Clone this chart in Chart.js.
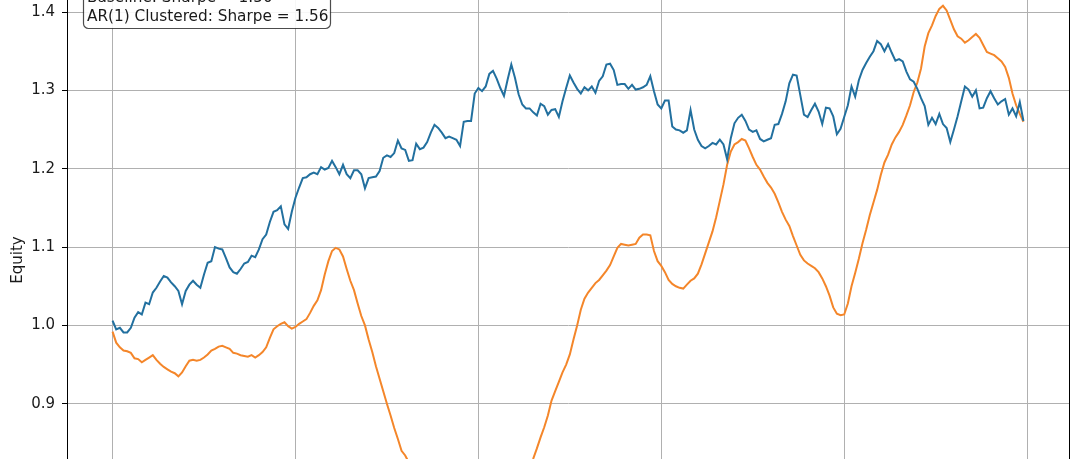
<!DOCTYPE html>
<html>
<head>
<meta charset="utf-8">
<script src="https://cdn.jsdelivr.net/npm/chart.js@4.4.1/dist/chart.umd.min.js"></script>
<style>
  html, body { margin: 0; padding: 0; background: #fff; overflow: hidden; }
  #wrap { position: relative; width: 1080px; height: 459px; overflow: hidden; }
  #equity { position: absolute; left: 0; top: -40px; }
</style>
</head>
<body>
<div id="wrap"><canvas id="equity" width="1080" height="624"></canvas></div>
<script>
// step index along the backtest (0..249)
const steps = Array.from({ length: 250 }, (_, i) => i);
const xTicks = [0, 50, 100, 150, 200, 250];
const yTicks = [0.8, 0.9, 1.0, 1.1, 1.2, 1.3, 1.4];

const legendLines = ['Baseline: Sharpe = 1.50', 'AR(1) Clustered: Sharpe = 1.56'];

// Baseline equity curve
const baseline = [
  1.006, 0.995, 0.997, 0.991, 0.991, 0.997, 1.010, 1.017, 1.014, 1.029,
  1.027, 1.042, 1.048, 1.056, 1.063, 1.061, 1.055, 1.050, 1.044, 1.027,
  1.044, 1.052, 1.057, 1.052, 1.048, 1.065, 1.080, 1.082, 1.100, 1.098,
  1.097, 1.086, 1.074, 1.068, 1.066, 1.072, 1.079, 1.081, 1.089, 1.087,
  1.097, 1.110, 1.116, 1.132, 1.145, 1.147, 1.152, 1.129, 1.123, 1.145,
  1.163, 1.176, 1.188, 1.189, 1.193, 1.195, 1.193, 1.202, 1.199, 1.201,
  1.210, 1.202, 1.193, 1.205, 1.193, 1.188, 1.198, 1.198, 1.193, 1.175,
  1.188, 1.189, 1.190, 1.197, 1.214, 1.217, 1.215, 1.220, 1.236, 1.226,
  1.224, 1.210, 1.211, 1.232, 1.225, 1.227, 1.234, 1.246, 1.256, 1.252,
  1.246, 1.239, 1.241, 1.239, 1.237, 1.229, 1.260, 1.261, 1.261, 1.296,
  1.303, 1.299, 1.305, 1.321, 1.325, 1.315, 1.303, 1.293, 1.314, 1.333,
  1.316, 1.295, 1.282, 1.277, 1.277, 1.272, 1.268, 1.283, 1.280, 1.269,
  1.275, 1.276, 1.266, 1.286, 1.303, 1.319, 1.310, 1.302, 1.296, 1.304,
  1.300, 1.305, 1.297, 1.312, 1.318, 1.333, 1.334, 1.326, 1.307, 1.308,
  1.308, 1.302, 1.307, 1.301, 1.302, 1.304, 1.307, 1.318, 1.299, 1.282,
  1.277, 1.287, 1.287, 1.254, 1.250, 1.249, 1.246, 1.249, 1.275, 1.250,
  1.237, 1.229, 1.226, 1.229, 1.233, 1.231, 1.237, 1.231, 1.212, 1.239,
  1.258, 1.265, 1.269, 1.261, 1.250, 1.247, 1.249, 1.238, 1.235, 1.237,
  1.239, 1.256, 1.257, 1.270, 1.286, 1.309, 1.320, 1.319, 1.294, 1.269,
  1.266, 1.275, 1.283, 1.273, 1.257, 1.278, 1.277, 1.267, 1.244, 1.251,
  1.266, 1.281, 1.305, 1.292, 1.313, 1.326, 1.335, 1.343, 1.350, 1.363,
  1.359, 1.350, 1.359, 1.348, 1.338, 1.340, 1.337, 1.324, 1.314, 1.311,
  1.302, 1.290, 1.280, 1.256, 1.265, 1.257, 1.270, 1.257, 1.252, 1.234,
  1.250, 1.267, 1.286, 1.305, 1.301, 1.292, 1.300, 1.277, 1.278, 1.290,
  1.299, 1.290, 1.282, 1.286, 1.289, 1.269, 1.277, 1.267, 1.285, 1.261
];

// AR(1) clustered equity curve
const clustered = [
  0.992, 0.978, 0.972, 0.968, 0.967, 0.965, 0.958, 0.957, 0.953, 0.956,
  0.959, 0.962, 0.956, 0.951, 0.947, 0.944, 0.941, 0.939, 0.935, 0.940,
  0.948, 0.955, 0.956, 0.955, 0.956, 0.959, 0.963, 0.968, 0.970, 0.973,
  0.974, 0.972, 0.970, 0.965, 0.964, 0.962, 0.961, 0.960, 0.962, 0.959,
  0.962, 0.966, 0.972, 0.984, 0.995, 0.999, 1.002, 1.004, 0.999, 0.996,
  0.998, 1.002, 1.005, 1.008, 1.016, 1.025, 1.032, 1.045, 1.065, 1.082,
  1.095, 1.099, 1.097, 1.088, 1.072, 1.057, 1.045, 1.028, 1.012, 1.000,
  0.982, 0.966, 0.948, 0.932, 0.916, 0.900, 0.885, 0.869, 0.855, 0.840,
  0.834, 0.825, 0.813, 0.802, 0.792, 0.783, 0.775, 0.768, 0.762, 0.758,
  0.754, 0.752, 0.751, 0.750, 0.751, 0.752, 0.751, 0.750, 0.750, 0.752,
  0.755, 0.758, 0.762, 0.766, 0.770, 0.774, 0.778, 0.782, 0.786, 0.790,
  0.792, 0.797, 0.803, 0.809, 0.818, 0.830, 0.843, 0.857, 0.870, 0.885,
  0.904, 0.916, 0.928, 0.940, 0.950, 0.963, 0.982, 1.000, 1.020, 1.034,
  1.042, 1.048, 1.054, 1.058, 1.064, 1.070, 1.077, 1.088, 1.099, 1.104,
  1.103, 1.102, 1.103, 1.104, 1.112, 1.116, 1.116, 1.115, 1.095, 1.082,
  1.076, 1.068, 1.058, 1.053, 1.050, 1.048, 1.047, 1.052, 1.057, 1.060,
  1.066, 1.078, 1.092, 1.106, 1.120, 1.138, 1.159, 1.180, 1.205, 1.222,
  1.231, 1.234, 1.238, 1.236, 1.226, 1.215, 1.205, 1.199, 1.190, 1.182,
  1.176, 1.168, 1.157, 1.145, 1.135, 1.127, 1.114, 1.102, 1.090, 1.083,
  1.079, 1.076, 1.073, 1.068, 1.060, 1.050, 1.038, 1.023, 1.015, 1.013,
  1.014, 1.028, 1.050, 1.067, 1.085, 1.105, 1.122, 1.141, 1.157, 1.173,
  1.192, 1.208, 1.218, 1.231, 1.240, 1.247, 1.256, 1.268, 1.281, 1.298,
  1.310, 1.328, 1.356, 1.373, 1.383, 1.395, 1.404, 1.408, 1.402, 1.390,
  1.378, 1.369, 1.366, 1.361, 1.364, 1.368, 1.372, 1.367, 1.358, 1.349,
  1.347, 1.345, 1.341, 1.337, 1.330, 1.316, 1.296, 1.281, 1.270, 1.260
];

const FONT = 'DejaVu Sans';

// top + right spines and the matplotlib-style text box
const frameAndBox = {
  id: 'frameAndBox',
  afterDraw(chart) {
    const { ctx, chartArea: a } = chart;
    ctx.save();
    ctx.strokeStyle = '#000';
    ctx.lineWidth = 1;
    ctx.strokeRect(Math.round(a.left) + 0.5, Math.round(a.top) + 0.5,
      Math.round(a.right - a.left), Math.round(a.bottom - a.top));

    // text box in the upper-left corner (canvas sits 40px above the page)
    const x = 83, y = 22, w = 247, h = 46, r = 5;
    ctx.beginPath();
    ctx.roundRect(x + 0.5, y + 0.5, w, h, r);
    ctx.fillStyle = 'rgba(255,255,255,0.9)';
    ctx.fill();
    ctx.strokeStyle = 'rgba(0,0,0,0.7)';
    ctx.lineWidth = 1.2;
    ctx.stroke();
    ctx.fillStyle = '#1a1a1a';
    ctx.font = '15.3px "' + FONT + '"';
    ctx.textBaseline = 'alphabetic';
    ctx.fillText(legendLines[0], 87, 42);
    ctx.fillText(legendLines[1], 87, 61);
    ctx.restore();
  }
};

new Chart(document.getElementById('equity'), {
  type: 'line',
  data: {
    datasets: [
      {
        label: legendLines[0],
        data: steps.map((s, i) => ({ x: s, y: baseline[i] })),
        borderColor: '#22709f',
        borderWidth: 2,
        pointRadius: 0,
        tension: 0
      },
      {
        label: legendLines[1],
        data: steps.map((s, i) => ({ x: s, y: clustered[i] })),
        borderColor: '#f4862a',
        borderWidth: 2,
        pointRadius: 0,
        tension: 0
      }
    ]
  },
  options: {
    responsive: false,
    animation: false,
    devicePixelRatio: 1,
    layout: { padding: { left: 0, right: 11, top: 5, bottom: 10 } },
    plugins: { legend: { display: false }, tooltip: { enabled: false } },
    scales: {
      x: {
        type: 'linear',
        min: -12.45,
        max: 261.45,
        afterBuildTicks: s => { s.ticks = xTicks.map(v => ({ value: v })); },
        afterFit: s => { s.height = 30; },
        grid: { color: '#b0b0b0', lineWidth: 1, tickColor: '#000', tickLength: 5 },
        border: { display: true, color: '#000', width: 1 },
        ticks: { color: '#1a1a1a', font: { family: FONT, size: 15 } }
      },
      y: {
        min: 0.721,
        max: 1.446,
        afterBuildTicks: s => { s.ticks = yTicks.map(v => ({ value: v })); },
        afterFit: s => { s.width = 67; },
        grid: { color: '#b0b0b0', lineWidth: 1, tickColor: '#000', tickLength: 5 },
        border: { display: true, color: '#000', width: 1 },
        ticks: {
          color: '#1a1a1a',
          padding: 7,
          font: { family: FONT, size: 15 },
          callback: v => v.toFixed(1)
        },
        title: {
          display: true,
          text: 'Equity',
          color: '#1a1a1a',
          font: { family: FONT, size: 15 },
          padding: { top: 9, bottom: 0 }
        }
      }
    }
  },
  plugins: [frameAndBox]
});
</script>
</body>
</html>
